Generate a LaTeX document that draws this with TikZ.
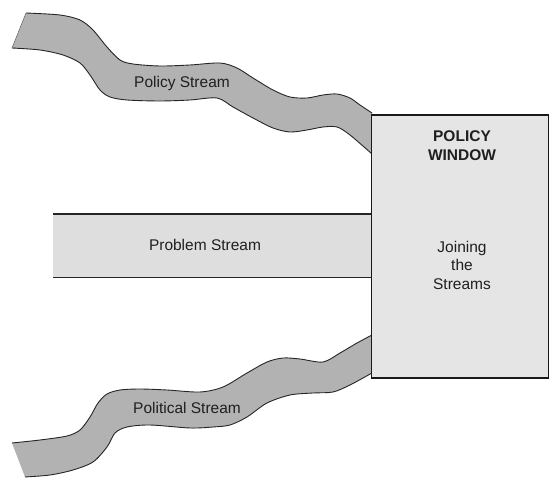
\documentclass[tikz,border=0pt]{standalone}
\usepackage{fontspec}
\setmainfont{Liberation Sans}
\begin{document}
\begin{tikzpicture}[x=1pt,y=-1pt,
  streamfill/.style={fill=black!30},
  edge/.style={draw=black!85,line width=0.9pt},
  lbl/.style={inner sep=0pt,text=black!88,font=\fontsize{15.5}{19}\selectfont},
  winlbl/.style={inner sep=0pt,align=center,text=black!88,font=\fontsize{15.5}{18.5}\selectfont}]
\useasboundingbox (0,0) rectangle (549,478);

% ---- policy stream (upper ribbon)
\def\policyTop{(26,13) (60,15) (80,20) (93,30) (107,47) (120,60) (133,64) (160,66) (190,65) (220,63) (237,68) (253,78) (273,90) (290,97) (307,98) (323,95) (337,94) (350,98) (360,105) (372,113)}
\def\policyBot{(372,154) (350,135) (337,127) (323,127) (307,130) (290,132) (273,128) (253,118) (233,107) (217,98) (190,100) (160,101) (127,100) (110,97) (100,90) (90,75) (80,63) (63,55) (40,50) (12,48)}
\fill[streamfill] plot[smooth,tension=0.5] coordinates {\policyTop} -- plot[smooth,tension=0.5] coordinates {\policyBot} -- cycle;
\draw[edge] plot[smooth,tension=0.5] coordinates {\policyTop};
\draw[edge] plot[smooth,tension=0.5] coordinates {\policyBot};
\draw[edge,draw=black!60,line width=0.5pt] (12,48) -- (26,13);

% ---- political stream (lower ribbon)
\def\politTop{(12,443) (40,440) (67,436) (80,430) (90,417) (98,403) (107,394) (120,390) (140,389) (167,390) (200,392) (223,387) (247,373) (267,362) (283,358) (300,359) (323,362) (340,353) (357,343) (372,335)}
\def\politBot{(372,373) (350,385) (333,392) (313,393) (290,395) (267,403) (247,417) (230,425) (213,427) (190,428) (150,425) (127,427) (115,433) (107,447) (93,462) (73,470) (50,475) (25,477)}
\fill[streamfill] plot[smooth,tension=0.5] coordinates {\politTop} -- plot[smooth,tension=0.5] coordinates {\politBot} -- cycle;
\draw[edge] plot[smooth,tension=0.5] coordinates {\politTop};
\draw[edge] plot[smooth,tension=0.5] coordinates {\politBot};

% ---- problem stream (straight band)
\node[fill=black!13,inner sep=0pt,minimum width=318pt,minimum height=63pt,anchor=north west] (problem) at (53,214) {};
\draw[edge,line width=1.1pt] (problem.north west) -- (problem.north east);
\draw[edge,line width=1.1pt] (problem.south west) -- (problem.south east);

% ---- policy window
\node[draw=black!90,line width=1.6pt,fill=black!10,inner sep=0pt,minimum width=177pt,minimum height=263pt,anchor=north west] (window) at (370.5,114) {};

% ---- labels
\node[lbl] (policylbl) at (182,83) {Policy Stream};
\node[lbl] (problemlbl) at (205,245) {Problem Stream};
\node[lbl] (politlbl) at (187,408) {Political Stream};
\node[winlbl,font=\fontsize{15.5}{19}\selectfont\bfseries] (wintitle) at (462,146) {POLICY\\WINDOW};
\node[winlbl] (winjoin) at (462,265) {Joining\\the\\Streams};
\end{tikzpicture}
\end{document}
